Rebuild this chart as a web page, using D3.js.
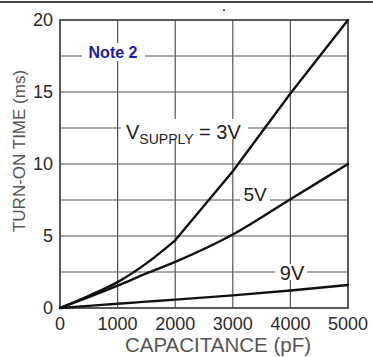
<!DOCTYPE html>
<html><head><meta charset="utf-8">
<script src="https://cdn.jsdelivr.net/npm/d3@7"></script>
<style>body{margin:0;background:#fff}svg{display:block}</style>
</head><body>
<script>
const capacitance = [0, 500, 1000, 1500, 2000, 3000, 4000, 5000];
const v3 = [0, 0.85, 1.8, 3.1, 4.7, 9.5, 14.9, 20];
const v5 = [0, 0.75, 1.55, 2.4, 3.2, 5.1, 7.55, 10];
const v9 = [0, 0.15, 0.3, 0.44, 0.58, 0.88, 1.22, 1.6];
const xTicks = [0, 1000, 2000, 3000, 4000, 5000];
const yTicks = [0, 5, 10, 15, 20];
const yGrid = [2.5, 5, 7.5, 10, 12.5, 15, 17.5];

const W = 373, H = 357;
const font = "Liberation Sans, Arial, sans-serif";
const svg = d3.select("body").append("svg").attr("width", W).attr("height", H);
const x = d3.scaleLinear().domain([0, 5000]).range([60, 348]);
const y = d3.scaleLinear().domain([0, 20]).range([308, 20]);

svg.append("line").attr("x1", 0).attr("x2", W).attr("y1", 2).attr("y2", 2)
  .attr("stroke", "#444").attr("stroke-width", 2);
svg.append("circle").attr("cx", 224).attr("cy", 10).attr("r", 1).attr("fill", "#333");

const grid = svg.append("g").attr("stroke", "#555").attr("stroke-width", 1.2);
xTicks.slice(1, -1).forEach(v => grid.append("line").attr("x1", x(v)).attr("x2", x(v)).attr("y1", y(0)).attr("y2", y(20)));
yGrid.forEach(v => grid.append("line").attr("x1", x(0)).attr("x2", x(5000)).attr("y1", y(v)).attr("y2", y(v)));

svg.append("rect").attr("x", 82).attr("y", 43).attr("width", 63).attr("height", 18).attr("fill", "#fff");
svg.append("text").attr("x", 113).attr("y", 58).attr("text-anchor", "middle")
  .attr("font-family", font).attr("font-weight", "bold").attr("font-size", 16)
  .attr("fill", "#1c1ca8").text("Note 2");

svg.append("rect").attr("x", x(0)).attr("y", y(20)).attr("width", x(5000) - x(0)).attr("height", y(0) - y(20))
  .attr("fill", "none").attr("stroke", "#333").attr("stroke-width", 1.6);

const curves = svg.append("g").attr("fill", "none").attr("stroke", "#111").attr("stroke-width", 2.4)
  .attr("stroke-linejoin", "round").attr("stroke-linecap", "round");
const idx = d3.range(capacitance.length);
const smooth = d3.line().curve(d3.curveMonotoneX);
const straight = d3.line();
const k = capacitance.indexOf(2000);
curves.append("path").attr("d", smooth(idx.filter(i => i <= k).map(i => [x(capacitance[i]), y(v3[i])])));
curves.append("path").attr("d", straight(idx.filter(i => i >= k).map(i => [x(capacitance[i]), y(v3[i])])));
[v5, v9].forEach(s => curves.append("path").attr("d", smooth(idx.map(i => [x(capacitance[i]), y(s[i])]))));

svg.append("rect").attr("x", 121).attr("y", 119).attr("width", 127).attr("height", 20).attr("fill", "#fff");
const t = svg.append("text").attr("x", 126).attr("y", 139).attr("font-family", font).attr("font-size", 20).attr("fill", "#222");
t.append("tspan").text("V");
t.append("tspan").attr("font-size", 14).attr("dy", 5).text("SUPPLY");
t.append("tspan").attr("dy", -5).text(" = 3V");

svg.append("rect").attr("x", 240).attr("y", 188).attr("width", 30).attr("height", 16).attr("fill", "#fff");
svg.append("text").attr("x", 255).attr("y", 201).attr("text-anchor", "middle").attr("font-family", font).attr("font-size", 19).attr("fill", "#222").text("5V");
svg.append("rect").attr("x", 275).attr("y", 264).attr("width", 32).attr("height", 16).attr("fill", "#fff");
svg.append("text").attr("x", 292).attr("y", 280).attr("text-anchor", "middle").attr("font-family", font).attr("font-size", 20).attr("fill", "#222").text("9V");

const tl = svg.append("g").attr("font-family", font).attr("font-size", 18).attr("fill", "#2a2a2a");
xTicks.forEach(v => tl.append("text").attr("x", x(v)).attr("y", 330).attr("text-anchor", "middle").text(v));
yTicks.forEach(v => tl.append("text").attr("x", 53).attr("y", y(v) + 6).attr("text-anchor", "end").text(v));

svg.append("text").attr("x", 218).attr("y", 352).attr("text-anchor", "middle").attr("font-family", font)
  .attr("font-size", 20.5).attr("fill", "#555").text("CAPACITANCE (pF)");
svg.append("text").attr("transform", "translate(25,151) rotate(-90)").attr("text-anchor", "middle").attr("font-family", font)
  .attr("font-size", 17).attr("fill", "#555").text("TURN-ON TIME (ms)");
</script>
</body></html>
